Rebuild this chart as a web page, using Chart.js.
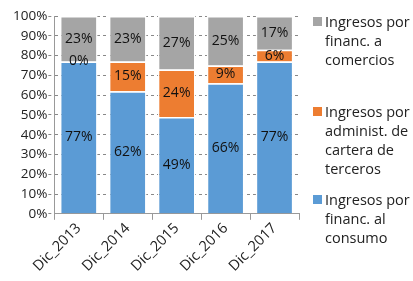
<!DOCTYPE html>
<html>
<head>
<meta charset="utf-8">
<script src="https://cdn.jsdelivr.net/npm/chart.js@4.4.1/dist/chart.umd.min.js"></script>
<style>
  body { margin: 0; background: #fff; }
  #wrap { position: relative; width: 413px; height: 281px; }
  .leg { position: absolute; left: 313px; font: 14.5px 'Open Sans', sans-serif; color: #222; line-height: 19px; white-space: nowrap; }
  .leg span.box { position: absolute; left: 0; top: 5px; width: 9px; height: 9px; }
  .leg div.txt { margin-left: 12px; }
</style>
</head>
<body>
<div id="wrap">
  <canvas id="chart" width="413" height="281"></canvas>
  <div class="leg" style="top:12px"><span class="box" style="background:#a5a5a5"></span><div class="txt">Ingresos por<br>financ. a<br>comercios</div></div>
  <div class="leg" style="top:102px"><span class="box" style="background:#ed7d31"></span><div class="txt">Ingresos por<br>administ. de<br>cartera de<br>terceros</div></div>
  <div class="leg" style="top:190px"><span class="box" style="background:#5b9bd5"></span><div class="txt">Ingresos por<br>financ. al<br>consumo</div></div>
</div>
<script>
var years = ['Dic_2013', 'Dic_2014', 'Dic_2015', 'Dic_2016', 'Dic_2017'];
var consumo = [77, 62, 49, 66, 77];
var terceros = [0, 15, 24, 9, 6];
var comercios = [23, 23, 27, 25, 17];
var yTicks = [0, 10, 20, 30, 40, 50, 60, 70, 80, 90, 100];

Chart.defaults.font.family = "'Open Sans', sans-serif";
Chart.defaults.color = '#222';

// draw the % value in the middle of every segment
var segLabels = {
    id: 'segLabels',
    afterDatasetsDraw: function (chart) {
        var c = chart.ctx;
        c.save();
        c.font = "14px 'Open Sans', sans-serif";
        c.fillStyle = '#111';
        c.textAlign = 'center';
        c.textBaseline = 'middle';
        chart.data.datasets.forEach(function (ds, i) {
            var meta = chart.getDatasetMeta(i);
            meta.data.forEach(function (bar, j) {
                var mid = (bar.y + bar.base) / 2;
                c.fillText(ds.data[j] + '%', bar.x, mid);
            });
        });
        c.restore();
    }
};

var ctx = document.getElementById('chart');
var myChart = new Chart(ctx, {
    type: 'bar',
    data: {
        labels: years,
        datasets: [
            { label: 'Ingresos por financ. al consumo', data: consumo, backgroundColor: '#5b9bd5', borderColor: '#fff', borderWidth: 1.5 },
            { label: 'Ingresos por administ. de cartera de terceros', data: terceros, backgroundColor: '#ed7d31', borderColor: '#fff', borderWidth: 1.5 },
            { label: 'Ingresos por financ. a comercios', data: comercios, backgroundColor: '#a5a5a5', borderColor: '#fff', borderWidth: 1.5 }
        ]
    },
    options: {
        responsive: false,
        animation: false,
        layout: { padding: { left: 12, right: 114, top: 16, bottom: 6 } },
        plugins: {
            legend: { display: false },
            tooltip: { enabled: false }
        },
        datasets: { bar: { categoryPercentage: 1, barPercentage: 0.77 } },
        scales: {
            x: {
                stacked: true,
                grid: { display: true, drawOnChartArea: false, offset: true, color: '#999', tickLength: 6 },
                border: { color: '#999' },
                ticks: { font: { size: 14.5 }, maxRotation: 45, minRotation: 45, padding: 0 }
            },
            y: {
                stacked: true,
                min: 0,
                max: 100,
                afterBuildTicks: function (axis) {
                    axis.ticks = yTicks.map(function (v) { return { value: v }; });
                },
                grid: { color: '#888', tickLength: 6, tickBorderDash: [3, 3] },
                border: { color: '#999', dash: [3, 3] },
                ticks: { font: { size: 13.5 }, padding: 1, callback: function (v) { return v + '%'; } }
            }
        }
    },
    plugins: [segLabels]
});
</script>
</body>
</html>
